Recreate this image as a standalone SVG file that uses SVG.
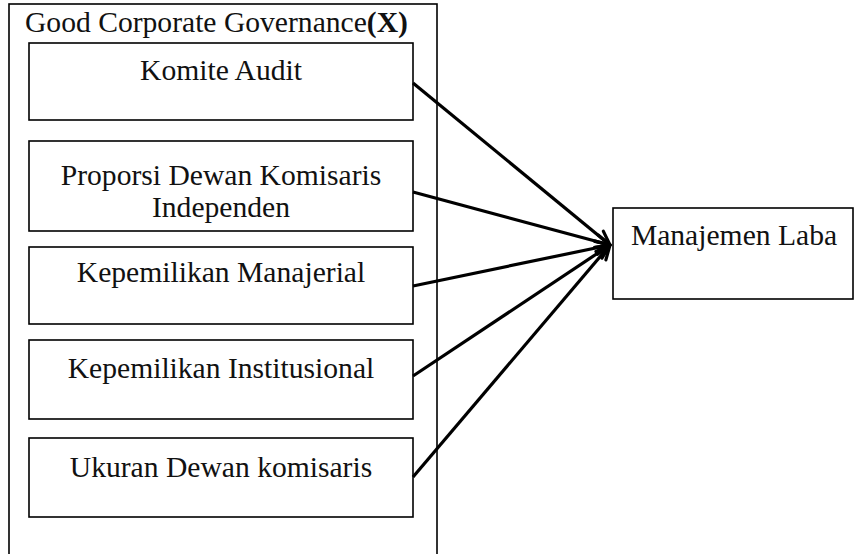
<svg xmlns="http://www.w3.org/2000/svg" width="856" height="554" viewBox="0 0 856 554">
<style>
.box{fill:none;stroke:#000;stroke-width:1.6}
.t{font-family:"Liberation Serif","Times New Roman",serif;font-size:29.6px;fill:#111}
.c{text-anchor:middle}
.ln{stroke:#000;stroke-width:3.2;fill:none;marker-end:url(#ah)}
</style>
<defs>
<marker id="ah" markerUnits="userSpaceOnUse" markerWidth="20" markerHeight="20" refX="15" refY="7" orient="auto" viewBox="0 0 20 14" overflow="visible">
<path d="M1,0.5 L15,7 L1,13.5" fill="none" stroke="#000" stroke-width="3.2" stroke-linecap="round" stroke-linejoin="round"/>
</marker>
</defs>
<rect width="856" height="554" fill="#fff"/>
<g id="group-x">
<rect class="box" x="9" y="4" width="428" height="560"/>
<text class="t" x="25" y="32">Good Corporate Governance<tspan font-weight="bold">(X)</tspan></text>
</g>
<g id="komite-audit">
<rect class="box" x="29" y="43" width="384" height="77"/>
<text class="t c" x="221" y="80">Komite Audit</text>
</g>
<g id="proporsi">
<rect class="box" x="29" y="141" width="384" height="90"/>
<text class="t c" x="221" y="185">Proporsi Dewan Komisaris</text>
<text class="t c" x="221" y="217">Independen</text>
</g>
<g id="manajerial">
<rect class="box" x="29" y="247" width="384" height="77"/>
<text class="t c" x="221" y="282">Kepemilikan Manajerial</text>
</g>
<g id="institusional">
<rect class="box" x="29" y="340" width="384" height="79"/>
<text class="t c" x="221" y="378">Kepemilikan Institusional</text>
</g>
<g id="ukuran">
<rect class="box" x="29" y="438" width="384" height="79"/>
<text class="t c" x="221" y="477">Ukuran Dewan komisaris</text>
</g>
<g id="manajemen-laba">
<rect class="box" x="613" y="208" width="240" height="91"/>
<text class="t c" x="734" y="245">Manajemen Laba</text>
</g>
<g id="connectors">
<line class="ln" x1="413" y1="83" x2="610" y2="245"/>
<line class="ln" x1="413" y1="192" x2="610" y2="245"/>
<line class="ln" x1="413" y1="286" x2="610" y2="245"/>
<line class="ln" x1="413" y1="376" x2="610" y2="245"/>
<line class="ln" x1="413" y1="477" x2="610" y2="245"/>
</g>
</svg>
